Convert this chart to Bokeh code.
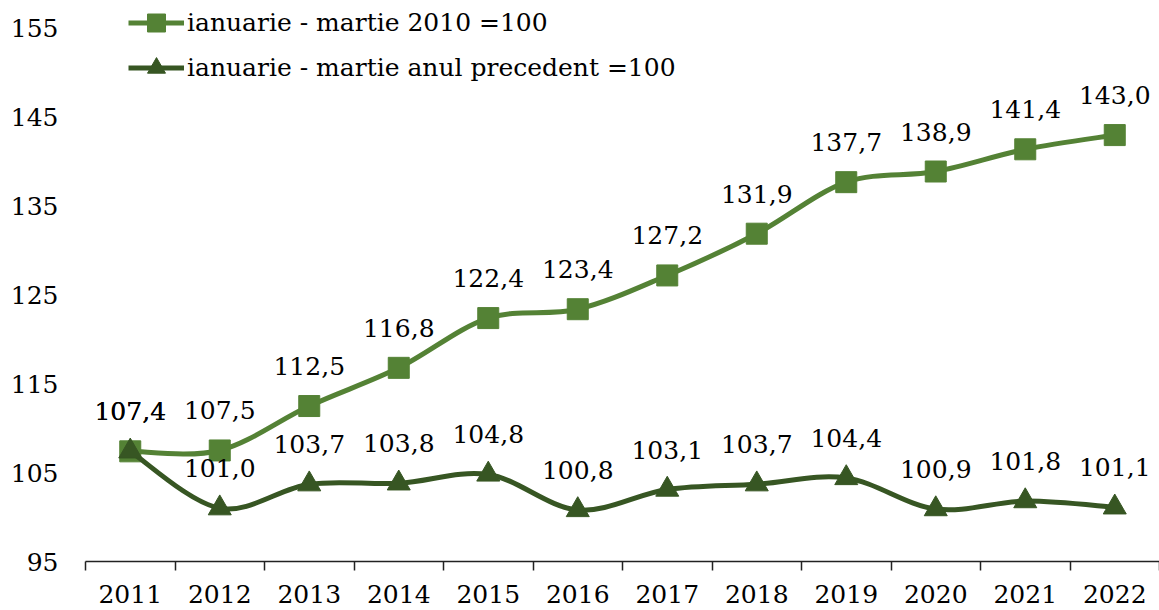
from bokeh.plotting import figure
from bokeh.models import Range1d, FixedTicker, Legend, LegendItem, ColumnDataSource
from bokeh.core.properties import value
from bokeh.embed import file_html
from bokeh.resources import INLINE

years = ["2011", "2012", "2013", "2014", "2015", "2016", "2017", "2018", "2019", "2020", "2021", "2022"]
base2010 = [107.4, 107.5, 112.5, 116.8, 122.4, 123.4, 127.2, 131.9, 137.7, 138.9, 141.4, 143.0]
prev_year = [107.4, 101.0, 103.7, 103.8, 104.8, 100.8, 103.1, 103.7, 104.4, 100.9, 101.8, 101.1]
series_names = ["ianuarie - martie 2010 =100", "ianuarie - martie anul precedent =100"]
y_ticks = [95, 105, 115, 125, 135, 145, 155]

C1 = "#548235"
C2 = "#375623"
FONT = "DejaVu Serif"

xs = [i + 0.5 for i in range(len(years))]

p = figure(width=1159, height=610, output_backend="svg", toolbar_location=None,
           x_range=Range1d(0, 12), y_range=Range1d(95, 158.15),
           min_border_left=85, min_border_right=0, min_border_top=0, min_border_bottom=49)
p.outline_line_color = None
p.xgrid.visible = False
p.ygrid.visible = False
p.background_fill_color = "white"
p.border_fill_color = "white"

# x axis: labels at category centers, ticks between categories
xa = p.xaxis[0]
xa.ticker = FixedTicker(ticks=xs, minor_ticks=list(range(len(years) + 1)))
xa.major_label_overrides = {x: y for x, y in zip(xs, years)}
xa.major_tick_line_color = None
xa.major_tick_out = 0
xa.major_tick_in = 0
xa.minor_tick_line_color = "#222222"
xa.minor_tick_line_width = 1.5
xa.minor_tick_out = 9
xa.minor_tick_in = 0
xa.axis_line_color = "#222222"
xa.axis_line_width = 1.5
xa.major_label_text_font = FONT
xa.major_label_text_font_size = "25px"
xa.major_label_text_color = "black"
xa.major_label_standoff = 14

ya = p.yaxis[0]
ya.ticker = FixedTicker(ticks=y_ticks)
ya.axis_line_color = None
ya.major_tick_line_color = None
ya.major_tick_out = 0
ya.major_tick_in = 0
ya.minor_tick_line_color = None
ya.major_label_text_font = FONT
ya.major_label_text_font_size = "25px"
ya.major_label_text_color = "black"
ya.major_label_standoff = 27


def smooth(xv, yv):
    n = len(xv)
    x0, y0, x1, y1, cx0, cy0, cx1, cy1 = [], [], [], [], [], [], [], []
    for i in range(n - 1):
        pm = (xv[max(i - 1, 0)], yv[max(i - 1, 0)])
        pa = (xv[i], yv[i])
        pb = (xv[i + 1], yv[i + 1])
        pn = (xv[min(i + 2, n - 1)], yv[min(i + 2, n - 1)])
        x0.append(pa[0]); y0.append(pa[1])
        x1.append(pb[0]); y1.append(pb[1])
        cx0.append(pa[0] + (pb[0] - pm[0]) / 6.0)
        cy0.append(pa[1] + (pb[1] - pm[1]) / 6.0)
        cx1.append(pb[0] - (pn[0] - pa[0]) / 6.0)
        cy1.append(pb[1] - (pn[1] - pa[1]) / 6.0)
    return dict(x0=x0, y0=y0, x1=x1, y1=y1, cx0=cx0, cy0=cy0, cx1=cx1, cy1=cy1)


items = []
for vals, col, marker, name in [(base2010, C1, "square", series_names[0]),
                                (prev_year, C2, "triangle", series_names[1])]:
    src = ColumnDataSource(smooth(xs, vals))
    p.bezier(x0="x0", y0="y0", x1="x1", y1="y1", cx0="cx0", cy0="cy0", cx1="cx1", cy1="cy1",
             source=src, line_color=col, line_width=5)
    p.scatter(xs, vals, marker=marker, size=21 if marker == "square" else 23,
              fill_color=col, line_color=col)
    labels = [("%.1f" % v).replace(".", ",") for v in vals]
    p.text(xs, vals, text=labels, text_align="center", text_baseline="middle",
           y_offset=-40, text_font=value(FONT), text_font_size="25px", text_color="black")
    # off-screen proxies so that the legend draws its glyphs
    dl = p.line([-10, -9], [0, 0], line_color=col, line_width=5)
    ds = p.scatter([-10], [0], marker=marker, size=21 if marker == "square" else 22,
                   fill_color=col, line_color=col)
    items.append(LegendItem(label=name, renderers=[dl, ds]))

legend = Legend(items=items, location=(43, 561 - 90), orientation="vertical",
                glyph_width=56, glyph_height=45, label_height=45, label_standoff=3,
                spacing=0, padding=0, margin=0,
                border_line_color=None, background_fill_alpha=0,
                label_text_font=FONT, label_text_font_size="25px", label_text_color="black")
p.add_layout(legend, "center")

open("out.html", "w").write(file_html(p, INLINE))
